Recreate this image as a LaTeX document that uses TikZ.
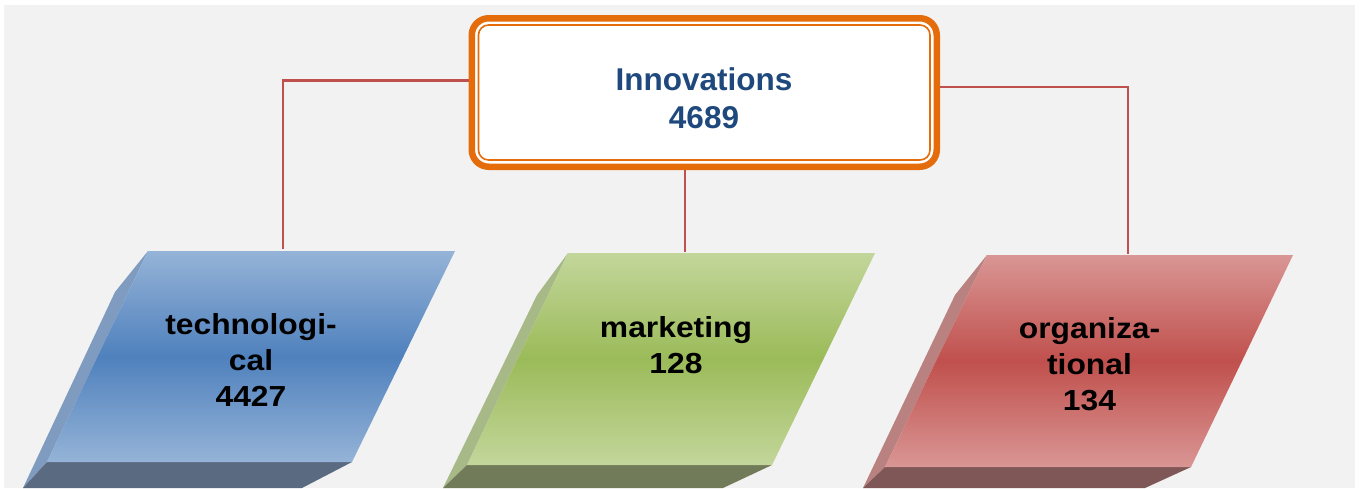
\documentclass[tikz,border=0pt]{standalone}
\usepackage{fontspec}
\setmainfont{Liberation Sans}
\newfontfamily\lsbold{Liberation Sans Bold}
\definecolor{bgC}{HTML}{F2F2F2}
\definecolor{orC}{HTML}{E46C0A}
\definecolor{txtB}{HTML}{1F497D}
\definecolor{connC}{HTML}{C0504D}
\definecolor{bluL}{HTML}{95B3D7}
\definecolor{bluD}{HTML}{4F81BD}
\definecolor{bluS}{HTML}{7F9BC0}
\definecolor{bluB}{HTML}{5A6A80}
\definecolor{grnL}{HTML}{C3D69B}
\definecolor{grnD}{HTML}{9BBB59}
\definecolor{grnS}{HTML}{A7B987}
\definecolor{grnB}{HTML}{717B59}
\definecolor{redL}{HTML}{D99694}
\definecolor{redD}{HTML}{C0504D}
\definecolor{redS}{HTML}{B98280}
\definecolor{redB}{HTML}{7F5756}
\begin{document}
\begin{tikzpicture}[x=1pt,y=-1pt,
  conn/.style={draw=connC, line width=2.2pt},
  lbl/.style={font=\lsbold\fontsize{29}{36}\selectfont, align=center, inner sep=0pt, anchor=north, xscale=1.097, transform shape},
  toplbl/.style={font=\lsbold\fontsize{31.5}{38}\selectfont, text=txtB, align=center, inner sep=0pt, anchor=north}]
\useasboundingbox (0,0) rectangle (1362,488);
\fill[bgC] (4,5) rectangle (1355,488);

% central box
\node[draw=orC, line width=6.5pt, fill=white, rounded corners=17pt,
      minimum width=465pt, minimum height=148.5pt, inner sep=0pt] (inn) at (704.25,92.5) {};
\draw[orC, line width=1.6pt, rounded corners=10pt]
  ([shift={(10,10)}]inn.north west) rectangle ([shift={(-10,-10)}]inn.south east);
\node[toplbl] (innT) at (704,67.4) {Innovations\\4689};

% connector ends
\coordinate (tk) at (283,249);
\coordinate (mk) at (685,252);
\coordinate (og) at (1128,254);
\draw[conn] ([yshift=12pt]inn.west) -| (tk);
\draw[conn] (inn.south -| mk) -- (mk);
\draw[conn] ([yshift=5.5pt]inn.east) -| (og);

% blue shape
\fill[bluS] (148,251) -- (115,292) -- (23,488) -- (47,462) -- cycle;
\fill[bluB] (47,462) -- (352,462) -- (302,488) -- (23,488) -- cycle;
\shade[top color=bluL, bottom color=bluL, middle color=bluD]
  (148,251) -- (455,251) -- (352,462) -- (47,462) -- cycle;

% green shape
\fill[grnS] (568,253) -- (537,295) -- (443,488) -- (467,465) -- cycle;
\fill[grnB] (467,465) -- (772,465) -- (723,488) -- (443,488) -- cycle;
\shade[top color=grnL, bottom color=grnL, middle color=grnD]
  (568,253) -- (875,253) -- (772,465) -- (467,465) -- cycle;

% red shape
\fill[redS] (987,255) -- (955,295) -- (863,488) -- (885,467) -- cycle;
\fill[redB] (885,467) -- (1191,467) -- (1145,488) -- (863,488) -- cycle;
\shade[top color=redL, bottom color=redL, middle color=redD]
  (987,255) -- (1293,255) -- (1191,467) -- (885,467) -- cycle;

% labels
\node[lbl] (tkT) at (251,313.5) {technologi-\\cal\\4427};
\node[lbl] (mkT) at (676,315.9) {marketing\\128};
\node[lbl] (ogT) at (1089.5,317.5) {organiza-\\tional\\134};
\end{tikzpicture}
\end{document}
